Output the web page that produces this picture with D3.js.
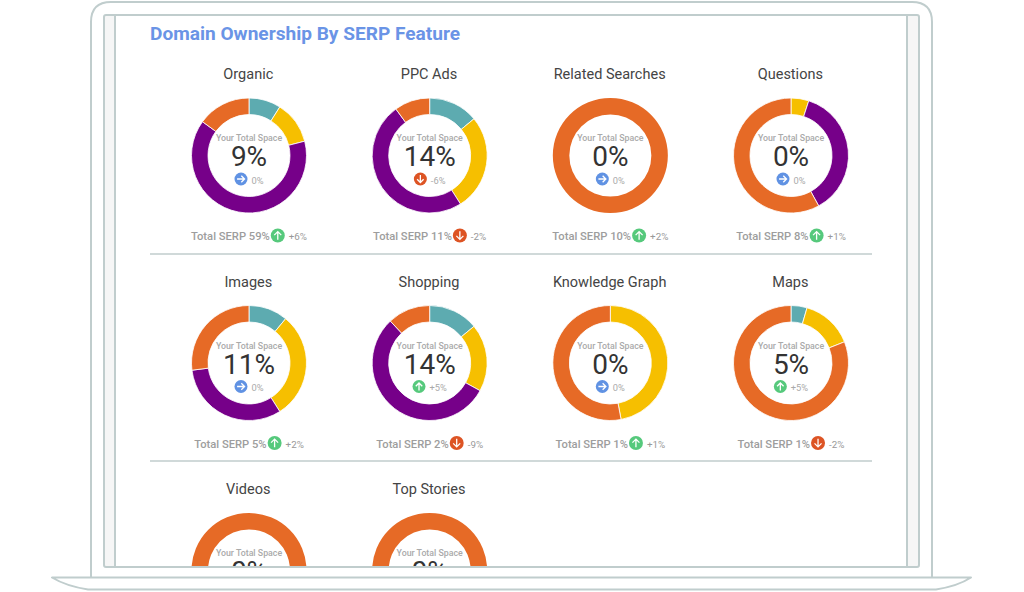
<!DOCTYPE html>
<html>
<head>
<meta charset="utf-8">
<script src="https://cdn.jsdelivr.net/npm/d3@7"></script>
<style>
  html, body { margin: 0; padding: 0; background: #fff; }
  svg { display: block; font-family: Roboto, sans-serif; }
</style>
</head>
<body>
<script>
var features = ['Organic', 'PPC Ads', 'Related Searches', 'Questions', 'Images', 'Shopping', 'Knowledge Graph', 'Maps', 'Videos', 'Top Stories'];

// share of each domain, clockwise from 12 o'clock
var teal = [9, 14, 0, 0, 11, 14, 0, 4.5, 0, 0];
var yellow = [12, 27, 0, 5, 30, 19, 47, 14.5, 0, 0];
var purple = [64, 49, 0, 37, 32, 55, 0, 0, 0, 0];
var orange = [15, 10, 100, 58, 27, 12, 53, 81, 100, 100];

var yourSpace = [9, 14, 0, 0, 11, 14, 0, 5, 0, 0];
var yourChange = [0, -6, 0, 0, 0, 5, 0, 5, null, null];
var serpTotal = [59, 11, 10, 8, 5, 2, 1, 1, null, null];
var serpChange = [6, -2, 2, 1, 2, -9, 1, -2, null, null];

(function () {
  var width = 1024,
    height = 592,
    line = '#c0cdcd',
    colors = ['#5dabb0', '#f6bf00', '#760089', '#e66a26'];

  var svg = d3.select('body')
    .append('svg')
    .attr('width', width)
    .attr('height', height);

  var x = d3.scalePoint().domain([0, 1, 2, 3]).range([249, 791]);
  var y = d3.scalePoint().domain([0, 1, 2]).range([155.5, 570.5]);

  var pie = d3.pie().sort(null).value(function (d) { return d; });
  var arc = d3.arc().innerRadius(41).outerRadius(57.5);

  function iconColor(v) {
    return v > 0 ? '#56c97c' : v < 0 ? '#dd5424' : '#6092e3';
  }

  function iconAngle(v) {
    return v > 0 ? 0 : v < 0 ? 180 : 90;
  }

  function signed(v) {
    return (v > 0 ? '+' : '') + v + '%';
  }

  // circle with a white arrow in it, pointing up before rotation
  function addIcon(g, cx, cy, r, v) {
    var icon = g.append('g')
      .attr('transform', 'translate(' + cx + ',' + cy + ') rotate(' + iconAngle(v) + ')');
    icon.append('circle').attr('r', r).attr('fill', iconColor(v));
    icon.append('path')
      .attr('d', 'M0,' + (r * 0.6) + 'V' + (-r * 0.55) + 'M' + (-r * 0.5) + ',' + (-r * 0.05) + 'L0,' + (-r * 0.55) + 'L' + (r * 0.5) + ',' + (-r * 0.05))
      .attr('fill', 'none')
      .attr('stroke', '#fff')
      .attr('stroke-width', 1.3);
  }

  // window strips behind the page
  svg.append('rect').attr('x', 104).attr('y', 15).attr('width', 815).attr('height', 552).attr('fill', '#f6f6f6');
  svg.append('rect').attr('x', 115).attr('y', 15).attr('width', 792).attr('height', 552).attr('fill', '#fff');

  svg.append('clipPath').attr('id', 'screen')
    .append('rect').attr('x', 115).attr('y', 15).attr('width', 792).attr('height', 551);

  var page = svg.append('g').attr('clip-path', 'url(#screen)');

  page.append('text')
    .attr('x', 150)
    .attr('y', 40)
    .attr('font-size', 19.1)
    .attr('font-weight', 700)
    .attr('fill', '#6a94e6')
    .text('Domain Ownership By SERP Feature');

  page.selectAll('line.sep')
    .data([254, 461])
    .enter()
    .append('line')
    .attr('class', 'sep')
    .attr('x1', 150)
    .attr('x2', 872)
    .attr('y1', function (d) { return d; })
    .attr('y2', function (d) { return d; })
    .attr('stroke', line)
    .attr('stroke-width', 1.5);

  var cells = page.selectAll('g.cell')
    .data(features)
    .enter()
    .append('g')
    .attr('class', 'cell')
    .attr('transform', function (d, i) {
      return 'translate(' + x(i % 4) + ',' + y(Math.floor(i / 4)) + ')';
    });

  cells.each(function (name, i) {
    var g = d3.select(this);

    g.append('text')
      .attr('x', -0.7)
      .attr('y', -76.5)
      .attr('text-anchor', 'middle')
      .attr('font-size', 14.5)
      .attr('fill', '#444')
      .text(name);

    g.selectAll('path.slice')
      .data(pie([teal[i], yellow[i], purple[i], orange[i]]))
      .enter()
      .append('path')
      .attr('class', 'slice')
      .attr('d', arc)
      .attr('fill', function (d, k) { return colors[k]; })
      .attr('stroke', '#fff')
      .attr('stroke-width', function (d) { return d.value > 0 && d.value < 100 ? 0.8 : 0; });

    g.append('text')
      .attr('y', -14.5)
      .attr('text-anchor', 'middle')
      .attr('font-size', 8.8)
      .attr('font-weight', 500)
      .attr('fill', '#aaa')
      .text('Your Total Space');

    g.append('text')
      .attr('y', 10.5)
      .attr('text-anchor', 'middle')
      .attr('font-size', 28)
      .attr('fill', '#333')
      .text(yourSpace[i] + '%');

    if (yourChange[i] !== null) {
      var small = g.append('text')
        .attr('y', 28)
        .attr('font-size', 9.3)
        .attr('fill', '#aaa')
        .text(signed(yourChange[i]));
      var w = small.node().getComputedTextLength();
      // icon + gap + label, centred as one group
      var left = -(13 + 4 + w) / 2;
      small.attr('x', left + 17);
      addIcon(g, left + 6.5, 23.5, 6.5, yourChange[i]);
    }

    if (serpTotal[i] !== null) {
      var total = g.append('text')
        .attr('y', 84.5)
        .attr('font-size', 11.2)
        .attr('font-weight', 500)
        .attr('fill', '#9d9d9d')
        .text('Total SERP ' + serpTotal[i] + '%');
      var change = g.append('text')
        .attr('y', 84.5)
        .attr('font-size', 9.8)
        .attr('fill', '#999')
        .text(signed(serpChange[i]));
      var tw = total.node().getComputedTextLength();
      var cw = change.node().getComputedTextLength();
      var start = -(tw + 1 + 14 + 4 + cw) / 2;
      total.attr('x', start);
      change.attr('x', start + tw + 1 + 14 + 4);
      addIcon(g, start + tw + 8, 80, 7, serpChange[i]);
    }
  });

  // laptop outline
  var outline = [
    'M91,577V22Q91,2 111,2H912Q932,2 932,22V577',
    'M115,15V566M907,15V566',
    'M106,15H917Q919,15 919,17V565Q919,567 917,567H106Q104,567 104,565V17Q104,15 106,15Z',
    'M52,577.5H971Q958,586 936,589.5H88Q66,586 52,577.5Z'
  ];

  svg.selectAll('path.frame')
    .data(outline)
    .enter()
    .append('path')
    .attr('class', 'frame')
    .attr('d', function (d) { return d; })
    .attr('fill', 'none')
    .attr('stroke', line)
    .attr('stroke-linejoin', 'round')
    .attr('stroke-width', 2);
}());
</script>
</body>
</html>
